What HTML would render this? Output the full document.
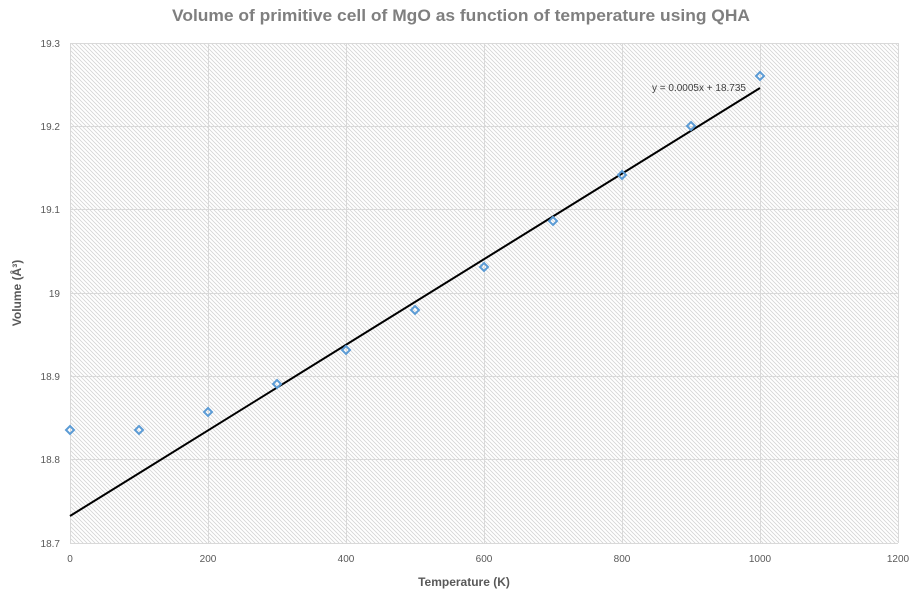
<!DOCTYPE html><html><head><style>body{margin:0;background:#fff}svg{font-family:"Liberation Sans",sans-serif}</style></head><body>
<svg width="917" height="595" xmlns="http://www.w3.org/2000/svg">
<defs><pattern id="h" width="4" height="4" patternUnits="userSpaceOnUse"><path d="M-1,-1 L5,5 M-1,3 L1,5 M3,-1 L5,1" stroke="#d4d4d4" stroke-width="0.8"/></pattern></defs>
<rect x="70" y="43" width="828" height="500" fill="url(#h)"/>
<g stroke="#d9d9d9" stroke-width="1">
<line x1="70" y1="43.5" x2="898" y2="43.5"/><line x1="70" y1="126.5" x2="898" y2="126.5"/><line x1="70" y1="209.5" x2="898" y2="209.5"/><line x1="70" y1="293.5" x2="898" y2="293.5"/><line x1="70" y1="376.5" x2="898" y2="376.5"/><line x1="70" y1="459.5" x2="898" y2="459.5"/><line x1="70" y1="543.5" x2="898" y2="543.5"/>
<line x1="70.5" y1="43" x2="70.5" y2="543"/><line x1="208.5" y1="43" x2="208.5" y2="543"/><line x1="346.5" y1="43" x2="346.5" y2="543"/><line x1="484.5" y1="43" x2="484.5" y2="543"/><line x1="622.5" y1="43" x2="622.5" y2="543"/><line x1="760.5" y1="43" x2="760.5" y2="543"/><line x1="898.5" y1="43" x2="898.5" y2="543"/>
</g>
<text x="172" y="21" font-size="17" font-weight="bold" fill="#7f7f7f" textLength="578" lengthAdjust="spacingAndGlyphs">Volume of primitive cell of MgO as function of temperature using QHA</text>
<g font-size="10" fill="#595959" text-anchor="end">
<text x="60" y="47">19.3</text><text x="60" y="130">19.2</text><text x="60" y="213">19.1</text><text x="60" y="297">19</text><text x="60" y="380">18.9</text><text x="60" y="463">18.8</text><text x="60" y="547">18.7</text></g>
<g font-size="10" fill="#595959" text-anchor="middle">
<text x="70" y="562">0</text><text x="208" y="562">200</text><text x="346" y="562">400</text><text x="484" y="562">600</text><text x="622" y="562">800</text><text x="760" y="562">1000</text><text x="898" y="562">1200</text></g>
<text x="464" y="586" text-anchor="middle" font-size="12" font-weight="bold" fill="#595959">Temperature (K)</text>
<text transform="translate(21,293) rotate(-90)" text-anchor="middle" font-size="12" font-weight="bold" fill="#595959">Volume (Å³)</text>
<line x1="70" y1="516" x2="760" y2="88" stroke="#000" stroke-width="2"/>
<text x="652" y="91" font-size="10" fill="#404040">y = 0.0005x + 18.735</text>
<g fill="none" stroke="#5b9bd5" stroke-width="2">
<path d="M70,426 l4,4 l-4,4 l-4,-4z"/><path d="M139,426 l4,4 l-4,4 l-4,-4z"/><path d="M208,408 l4,4 l-4,4 l-4,-4z"/><path d="M277,380 l4,4 l-4,4 l-4,-4z"/><path d="M346,346 l4,4 l-4,4 l-4,-4z"/><path d="M415,306 l4,4 l-4,4 l-4,-4z"/><path d="M484,263 l4,4 l-4,4 l-4,-4z"/><path d="M553,217 l4,4 l-4,4 l-4,-4z"/><path d="M622,171 l4,4 l-4,4 l-4,-4z"/><path d="M691,122 l4,4 l-4,4 l-4,-4z"/><path d="M760,72 l4,4 l-4,4 l-4,-4z"/>
</g>
</svg></body></html>
